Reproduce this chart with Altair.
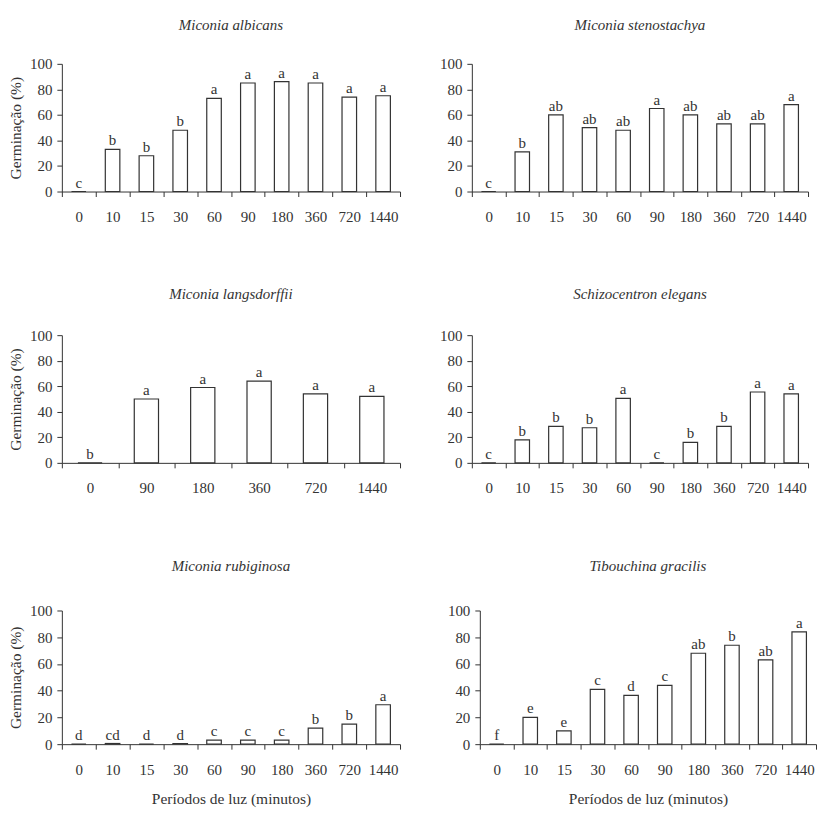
import altair as alt
import pandas as pd

periods10 = ["0", "10", "15", "30", "60", "90", "180", "360", "720", "1440"]
periods6 = ["0", "90", "180", "360", "720", "1440"]

albicans_vals = [0, 33, 28, 48, 73, 85, 86, 85, 74, 75]
albicans_letters = ["c", "b", "b", "b", "a", "a", "a", "a", "a", "a"]

steno_vals = [0, 31, 60, 50, 48, 65, 60, 53, 53, 68]
steno_letters = ["c", "b", "ab", "ab", "ab", "a", "ab", "ab", "ab", "a"]

langs_vals = [0, 50, 59, 64, 54, 52]
langs_letters = ["b", "a", "a", "a", "a", "a"]

schizo_vals = [0, 18, 28.5, 27.5, 50.5, 0, 16, 28.5, 55.5, 54]
schizo_letters = ["c", "b", "b", "b", "a", "c", "b", "b", "a", "a"]

rubig_vals = [0, 0.5, 0, 0.5, 3, 3, 3, 12, 15, 29.5]
rubig_letters = ["d", "cd", "d", "d", "c", "c", "c", "b", "b", "a"]

tibou_vals = [0, 20, 10, 41, 36.5, 44, 68, 74, 63, 84]
tibou_letters = ["f", "e", "e", "c", "d", "c", "ab", "b", "ab", "a"]

FONT = "'Liberation Serif', 'Times New Roman', 'DejaVu Serif', serif"
INK = "#333333"


def panel(title, cats, vals, letters, w, h, y_title, x_title, t_offset):
    df = pd.DataFrame({"periodo": cats, "germ": vals, "letra": letters})
    xaxis = dict(labelAngle=0, tickBand="extent", tickSize=5, labelPadding=13,
                 domainColor=INK, tickColor=INK, labelFont=FONT, labelFontSize=15,
                 labelColor=INK, grid=False)
    if x_title:
        xaxis.update(title="Períodos de luz (minutos)", titleFont=FONT, titleFontSize=15.5,
                     titleFontWeight="normal", titleColor=INK, titlePadding=14)
    else:
        xaxis.update(title="")
    yaxis = dict(values=[0, 20, 40, 60, 80, 100], tickSize=5, labelPadding=5, grid=False,
                 domainColor=INK, tickColor=INK, labelFont=FONT, labelFontSize=15,
                 labelColor=INK)
    if y_title:
        yaxis.update(title="Germinação (%)", titleFont=FONT, titleFontSize=15.5,
                     titleFontWeight="normal", titleColor=INK, titlePadding=6)
    else:
        yaxis.update(title="")
    base = alt.Chart(df).encode(
        x=alt.X("periodo:N", sort=cats,
                scale=alt.Scale(paddingInner=0, paddingOuter=0),
                axis=alt.Axis(**xaxis)),
        y=alt.Y("germ:Q", scale=alt.Scale(domain=[0, 100], nice=False),
                axis=alt.Axis(**yaxis)),
    )
    bars = base.mark_bar(fill="white", stroke=INK, strokeWidth=1.2,
                         width=alt.RelativeBandSize(0.43))
    text = base.mark_text(baseline="bottom", dy=-1, font=FONT, fontSize=15,
                          color=INK).encode(text="letra:N")
    return alt.layer(bars, text).properties(
        width=w, height=h,
        title=alt.TitleParams(text=title, font=FONT, fontStyle="italic", fontSize=15,
                              fontWeight="normal", color=INK, anchor="middle",
                              offset=t_offset),
    )


p1 = panel("Miconia albicans", periods10, albicans_vals, albicans_letters, 339, 128, True, False, 24)
p2 = panel("Miconia stenostachya", periods10, steno_vals, steno_letters, 337, 128, False, False, 24)
p3 = panel("Miconia langsdorffii", periods6, langs_vals, langs_letters, 339, 128, True, False, 26)
p4 = panel("Schizocentron elegans", periods10, schizo_vals, schizo_letters, 337, 128, False, False, 26)
p5 = panel("Miconia rubiginosa", periods10, rubig_vals, rubig_letters, 339, 134, True, True, 30)
p6 = panel("Tibouchina gracilis", periods10, tibou_vals, tibou_letters, 337, 134, False, True, 30)

row1 = alt.hconcat(p1, p2, spacing=38)
row2 = alt.hconcat(p3, p4, spacing=38)
row3 = alt.hconcat(p5, p6, spacing=46)

chart = alt.vconcat(row1, row2, row3, spacing=63).properties(
    padding={"left": 8, "top": 17, "right": 0, "bottom": 0},
    background="white",
).configure_view(stroke=None)

chart.save("out.html", embed_options={"renderer": "svg", "actions": False})
